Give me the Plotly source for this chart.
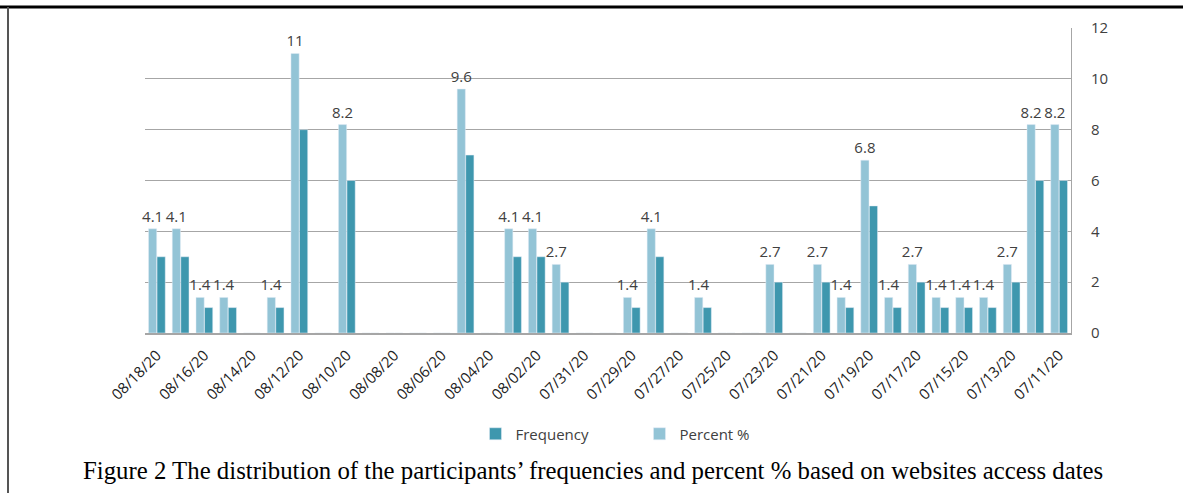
import plotly.graph_objects as go

dates = ["08/18/20", "08/17/20", "08/16/20", "08/15/20", "08/14/20", "08/13/20", "08/12/20",
         "08/11/20", "08/10/20", "08/09/20", "08/08/20", "08/07/20", "08/06/20", "08/05/20",
         "08/04/20", "08/03/20", "08/02/20", "08/01/20", "07/31/20", "07/30/20", "07/29/20",
         "07/28/20", "07/27/20", "07/26/20", "07/25/20", "07/24/20", "07/23/20", "07/22/20",
         "07/21/20", "07/20/20", "07/19/20", "07/18/20", "07/17/20", "07/16/20", "07/15/20",
         "07/14/20", "07/13/20", "07/12/20", "07/11/20"]
frequency = [3, 3, 1, 1, 0, 1, 8, 0, 6, 0, 0, 0, 0, 7, 0, 3, 3, 2, 0, 0, 1, 3, 0, 1, 0, 0, 2, 0,
             2, 1, 5, 1, 2, 1, 1, 1, 2, 6, 6]
percent = [4.1, 4.1, 1.4, 1.4, 0, 1.4, 11, 0, 8.2, 0, 0, 0, 0, 9.6, 0, 4.1, 4.1, 2.7, 0, 0, 1.4,
           4.1, 0, 1.4, 0, 0, 2.7, 0, 2.7, 1.4, 6.8, 1.4, 2.7, 1.4, 1.4, 1.4, 2.7, 8.2, 8.2]
tick_labels = dates[::2]
y_ticks = [0, 2, 4, 6, 8, 10, 12]
caption = "Figure 2 The distribution of the participants\u2019 frequencies and percent % based on websites access dates"

W, H = 1183, 493
L, R, T, B = 145, 1071, 28, 333


def px(x):
    return (x - L) / (R - L)


def py(y):
    return (B - y) / (B - T)


pct_text = ["" if v == 0 else f"{v:g}" for v in percent]

fig = go.Figure()
fig.add_trace(go.Bar(
    x=dates, y=percent, name="Percent %", marker_color="#93c4d6",
    text=pct_text, textposition="outside", textangle=0, constraintext="none",
    cliponaxis=False, textfont=dict(family="Open Sans", size=15, color="#404040"),
))
fig.add_trace(go.Bar(
    x=dates, y=frequency, name="Frequency", marker_color="#3e97ae",
))

fig.update_layout(
    width=W, height=H,
    margin=dict(l=L, r=W - R, t=T, b=H - B),
    plot_bgcolor="white", paper_bgcolor="white",
    barmode="group", bargap=0.28, bargroupgap=0.04,
    font=dict(family="Open Sans", color="#404040"),
    showlegend=True,
    legend=dict(orientation="h", x=0.534, xanchor="center", y=py(434), yanchor="middle",
                traceorder="reversed", entrywidth=119, font=dict(size=15, color="#404040")),
)
fig.update_xaxes(
    type="category", categoryorder="array", categoryarray=dates,
    tickmode="array", tickvals=tick_labels, ticktext=tick_labels, tickangle=-45,
    tickfont=dict(family="Open Sans", size=15, color="#222222"), ticklabelstandoff=6,
    showline=True, linecolor="#a6a6a6", linewidth=1.5, showgrid=False, ticks="",
)
fig.update_yaxes(
    side="right", range=[0, 12], tickvals=y_ticks, showgrid=True, gridcolor="#a6a6a6",
    gridwidth=1, showline=True, linecolor="#a6a6a6", linewidth=1, zeroline=False,
    ticks="", ticklabelstandoff=16, tickfont=dict(family="Open Sans", size=15, color="#404040"),
)

fig.add_shape(type="line", xref="paper", yref="paper", x0=px(0), x1=px(W), y0=py(7), y1=py(7),
              line=dict(color="black", width=3))
fig.add_shape(type="line", xref="paper", yref="paper", x0=px(8), x1=px(8), y0=py(7), y1=py(H),
              line=dict(color="#555555", width=2))
fig.add_annotation(text=caption, xref="paper", yref="paper", x=px(593), y=py(470),
                   xanchor="center", yanchor="middle", showarrow=False,
                   font=dict(family="Liberation Serif", size=24.8, color="black"))

fig.write_html("out.html", config={"displayModeBar": False},
               post_script="document.body.style.margin='0';")
